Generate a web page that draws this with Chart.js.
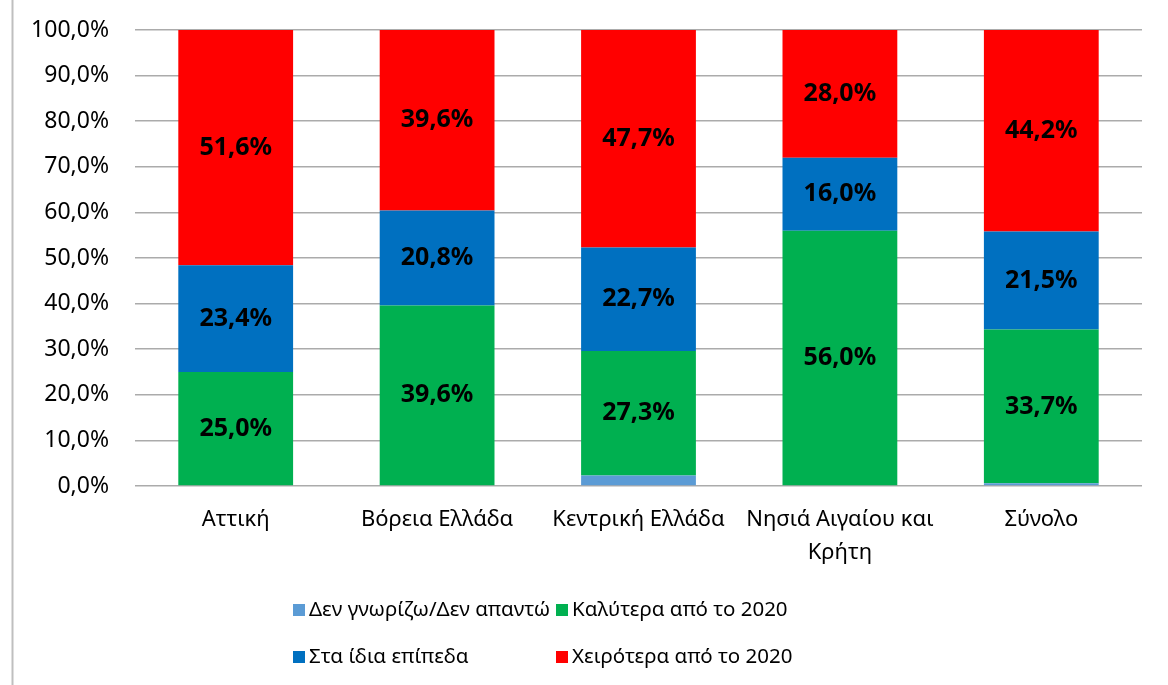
<!DOCTYPE html>
<html>
<head>
<meta charset="utf-8">
<script src="https://cdn.jsdelivr.net/npm/chart.js@4"></script>
<style>
html,body{margin:0;padding:0;background:#fff;}
#wrap{position:relative;width:1168px;height:685px;}
</style>
</head>
<body>
<div id="wrap"><canvas id="c" width="1168" height="685"></canvas></div>
<script>
const categories = ["Αττική", "Βόρεια Ελλάδα", "Κεντρική Ελλάδα", ["Νησιά Αιγαίου και", "Κρήτη"], "Σύνολο"];
const seriesNames = ["Δεν γνωρίζω/Δεν απαντώ", "Καλύτερα από το 2020", "Στα ίδια επίπεδα", "Χειρότερα από το 2020"];
const dontKnow = [0, 0, 2.3, 0, 0.6];
const better   = [25.0, 39.6, 27.3, 56.0, 33.7];
const same     = [23.4, 20.8, 22.7, 16.0, 21.5];
const worse    = [51.6, 39.6, 47.7, 28.0, 44.2];
const yTicks = [0, 10, 20, 30, 40, 50, 60, 70, 80, 90, 100];
const colors = ["#5B9BD5", "#00B050", "#0070C0", "#FF0000"];

const FONT = "'Noto Sans', sans-serif";
const fmt = v => v.toFixed(1).replace('.', ',') + '%';

const dataLabels = {
  id: 'dataLabels',
  afterDatasetsDraw(chart) {
    const ctx = chart.ctx;
    ctx.save();
    ctx.font = "bold 25px " + FONT;
    ctx.fillStyle = "#000";
    ctx.textAlign = "center";
    ctx.textBaseline = "middle";
    chart.data.datasets.forEach((ds, i) => {
      const meta = chart.getDatasetMeta(i);
      meta.data.forEach((bar, j) => {
        const v = ds.data[j];
        if (!v || v < 5) return;
        const y = (bar.y + bar.base) / 2;
        ctx.fillText(fmt(v), bar.x, y);
      });
    });
    ctx.restore();
  }
};

const customLegend = {
  id: 'customLegend',
  afterDraw(chart) {
    const ctx = chart.ctx;
    ctx.save();
    ctx.strokeStyle = "#BFBFBF";
    ctx.lineWidth = 2;
    ctx.beginPath();
    ctx.moveTo(12.5, 0);
    ctx.lineTo(12.5, 685);
    ctx.stroke();
    const cols = [293, 556];
    const rows = [610, 657];
    ctx.font = "20.5px " + FONT;
    ctx.textBaseline = "middle";
    ctx.textAlign = "left";
    chart.data.datasets.forEach((ds, i) => {
      const x = cols[i % 2];
      const y = rows[Math.floor(i / 2)];
      ctx.fillStyle = ds.backgroundColor;
      ctx.fillRect(x, y - 6, 12, 12);
      ctx.fillStyle = "#000";
      ctx.fillText(ds.label, x + 16, y);
    });
    ctx.restore();
  }
};

const datasets = [dontKnow, better, same, worse].map((d, i) => ({
  label: seriesNames[i],
  data: d,
  backgroundColor: colors[i],
  borderWidth: 0,
  barPercentage: 0.57,
  categoryPercentage: 1.0
}));

new Chart(document.getElementById('c'), {
  type: 'bar',
  data: { labels: categories, datasets },
  options: {
    responsive: false,
    animation: false,
    layout: { padding: { top: 30, right: 26, bottom: 0, left: 0 } },
    plugins: {
      legend: { display: false },
      tooltip: { enabled: false }
    },
    scales: {
      x: {
        stacked: true,
        grid: { display: false, drawTicks: false },
        border: { display: false },
        ticks: {
          color: "#000",
          font: { family: FONT, size: 22, lineHeight: 1.5 },
          padding: 17,
          maxRotation: 0,
          autoSkip: false
        },
        afterFit(scale) { scale.height = 199; }
      },
      y: {
        stacked: true,
        min: 0,
        max: 100,
        afterBuildTicks(scale) { scale.ticks = yTicks.map(v => ({ value: v })); },
        grid: { color: "#ABABAB", lineWidth: 1.5, drawTicks: true, tickLength: 26, tickColor: "rgba(0,0,0,0)" },
        border: { display: false },
        ticks: {
          color: "#000",
          font: { family: FONT, size: 23 },
          padding: 0,
          callback: v => fmt(v)
        },
        afterFit(scale) { scale.width = 135; }
      }
    }
  },
  plugins: [dataLabels, customLegend]
});
</script>
</body>
</html>
